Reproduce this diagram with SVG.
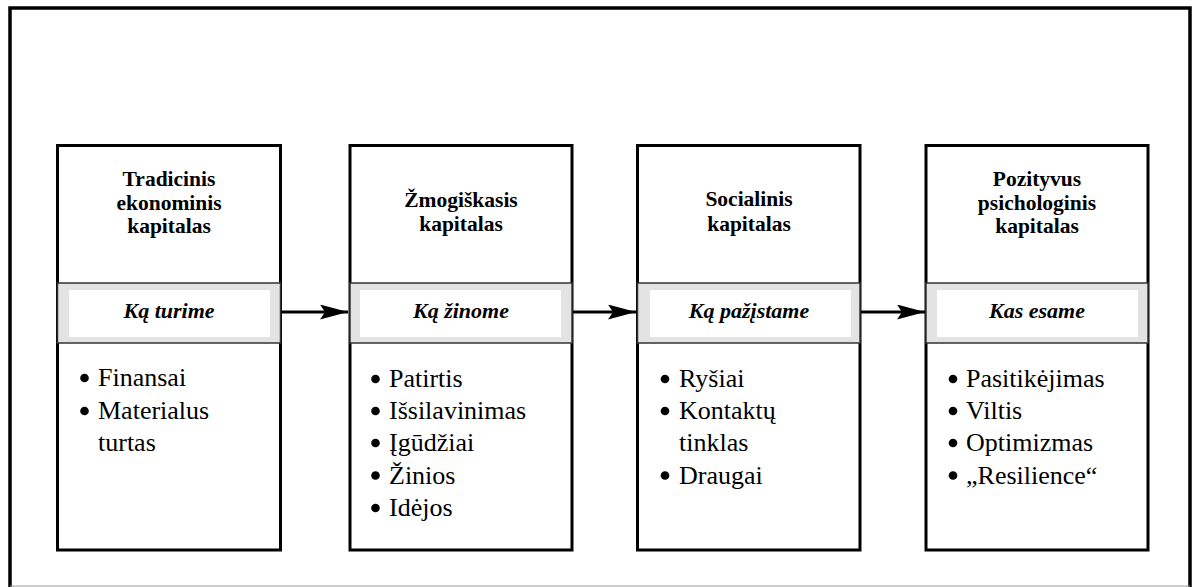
<svg xmlns="http://www.w3.org/2000/svg" width="1197" height="587" viewBox="0 0 1197 587">
<defs>
<style>
.frame{fill:none;stroke:#000;stroke-width:3.5}
.box{fill:#fff;stroke:#000;stroke-width:3}
.band{fill:#e3e3e3;stroke:#333;stroke-width:1.5}
.inner{fill:#fff;stroke:none}
.head{font-family:"Liberation Serif","Times New Roman",serif;font-weight:bold;font-size:21.5px;text-anchor:middle;fill:#000}
.lab{font-family:"Liberation Serif","Times New Roman",serif;font-weight:bold;font-style:italic;font-size:22px;text-anchor:middle;fill:#000}
.item{font-family:"Liberation Serif","Times New Roman",serif;font-size:26px;fill:#000}
.dot{fill:#000}
.conn{stroke:#000;stroke-width:3;fill:none}
</style>
<marker id="ah" markerUnits="userSpaceOnUse" markerWidth="30" markerHeight="16" refX="28" refY="7.5" orient="auto">
<path d="M0,0 L28,7.5 L0,15 L5,7.5 Z" fill="#000"/>
</marker>
</defs>
<rect width="1197" height="587" fill="#fff"/>
<g id="frame">
<path class="frame" d="M10,590 L10,8 L1190,8 L1190,590"/>
<line x1="10" y1="586" x2="1190" y2="586" stroke="#999" stroke-width="1"/>
</g>
<g id="connectors">
<line class="conn" x1="281" y1="312" x2="348" y2="312" marker-end="url(#ah)"/>
<line class="conn" x1="572" y1="312" x2="636" y2="312" marker-end="url(#ah)"/>
<line class="conn" x1="860" y1="312" x2="925" y2="312" marker-end="url(#ah)"/>
</g>
<g id="node1">
<rect class="box" x="57.5" y="145.5" width="223" height="404.5"/>
<rect class="band" x="57.5" y="283" width="223" height="60"/>
<rect class="inner" x="69" y="290" width="201" height="47"/>
<text class="head"><tspan x="169" y="186">Tradicinis</tspan><tspan x="169" y="209.5">ekonominis</tspan><tspan x="169" y="233">kapitalas</tspan></text>
<text class="lab" x="169" y="318">Ką turime</text>
<circle class="dot" cx="84.5" cy="378" r="4.3"/><circle class="dot" cx="84.5" cy="411" r="4.3"/>
<text class="item"><tspan x="98" y="386">Finansai</tspan><tspan x="98" y="419">Materialus</tspan><tspan x="98" y="451">turtas</tspan></text>
</g>
<g id="node2">
<rect class="box" x="350" y="145.5" width="222" height="404.5"/>
<rect class="band" x="350" y="283" width="222" height="60"/>
<rect class="inner" x="360" y="290" width="201" height="47"/>
<text class="head"><tspan x="461" y="207">Žmogiškasis</tspan><tspan x="461" y="231">kapitalas</tspan></text>
<text class="lab" x="461" y="318">Ką žinome</text>
<circle class="dot" cx="375.5" cy="379" r="4.3"/><circle class="dot" cx="375.5" cy="411" r="4.3"/><circle class="dot" cx="375.5" cy="443" r="4.3"/><circle class="dot" cx="375.5" cy="475.5" r="4.3"/><circle class="dot" cx="375.5" cy="508" r="4.3"/>
<text class="item"><tspan x="389" y="387">Patirtis</tspan><tspan x="389" y="419">Išsilavinimas</tspan><tspan x="389" y="451">Įgūdžiai</tspan><tspan x="389" y="483.5">Žinios</tspan><tspan x="389" y="516">Idėjos</tspan></text>
</g>
<g id="node3">
<rect class="box" x="637.5" y="145.5" width="222.5" height="404.5"/>
<rect class="band" x="637.5" y="283" width="222.5" height="60"/>
<rect class="inner" x="650" y="290" width="201" height="47"/>
<text class="head"><tspan x="749" y="206">Socialinis</tspan><tspan x="749" y="231">kapitalas</tspan></text>
<text class="lab" x="749" y="318">Ką pažįstame</text>
<circle class="dot" cx="665" cy="379" r="4.3"/><circle class="dot" cx="665" cy="411" r="4.3"/><circle class="dot" cx="665" cy="475.5" r="4.3"/>
<text class="item"><tspan x="679" y="387">Ryšiai</tspan><tspan x="679" y="419">Kontaktų</tspan><tspan x="679" y="451">tinklas</tspan><tspan x="679" y="483.5">Draugai</tspan></text>
</g>
<g id="node4">
<rect class="box" x="926" y="145.5" width="222" height="404.5"/>
<rect class="band" x="926" y="283" width="222" height="60"/>
<rect class="inner" x="937" y="290" width="201" height="47"/>
<text class="head"><tspan x="1037" y="186">Pozityvus</tspan><tspan x="1037" y="209.5">psichologinis</tspan><tspan x="1037" y="233">kapitalas</tspan></text>
<text class="lab" x="1037" y="318">Kas esame</text>
<circle class="dot" cx="953" cy="379" r="4.3"/><circle class="dot" cx="953" cy="411" r="4.3"/><circle class="dot" cx="953" cy="443" r="4.3"/><circle class="dot" cx="953" cy="475.5" r="4.3"/>
<text class="item"><tspan x="966" y="387">Pasitikėjimas</tspan><tspan x="966" y="419">Viltis</tspan><tspan x="966" y="451">Optimizmas</tspan><tspan x="966" y="483.5">„Resilience“</tspan></text>
</g>
</svg>
